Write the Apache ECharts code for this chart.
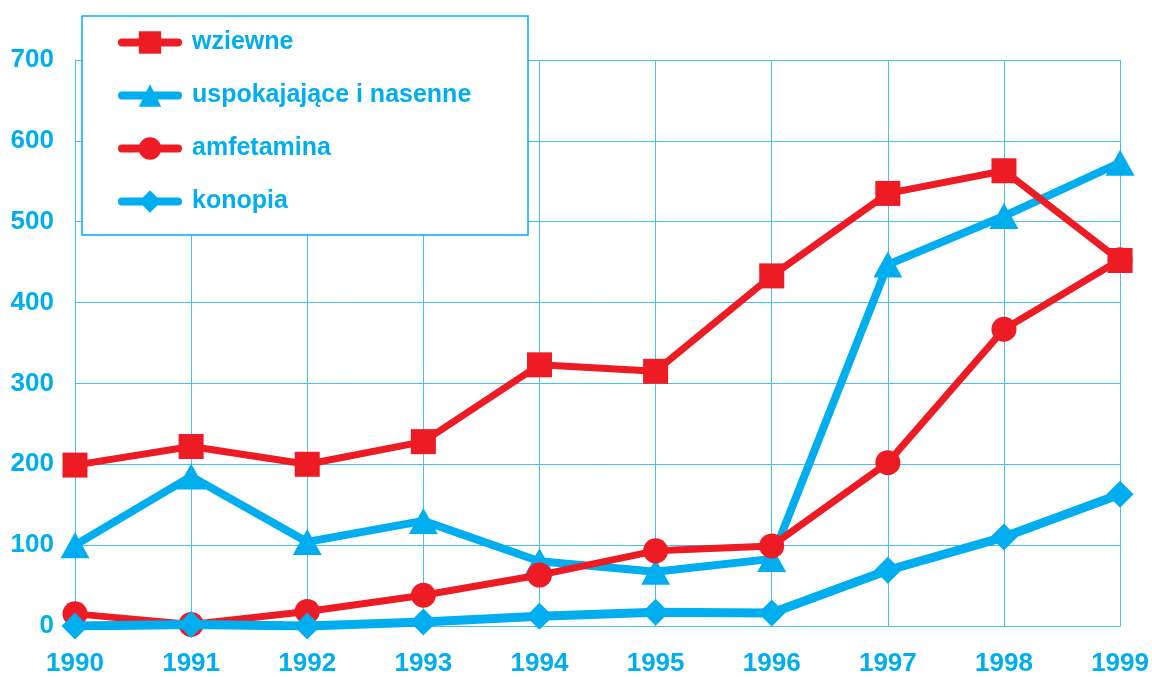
<!DOCTYPE html>
<html>
<head>
<meta charset="utf-8">
<script src="https://cdn.jsdelivr.net/npm/echarts@6/dist/echarts.min.js"></script>
<style>
html,body{margin:0;padding:0;background:#fff;}
#c1{width:1152px;height:677px;}
</style>
</head>
<body>
<div id="c1"></div>
<script>
var years = ['1990','1991','1992','1993','1994','1995','1996','1997','1998','1999'];
var wziewne = [199, 222, 200, 228, 323, 315, 433, 535, 563, 452];
var uspokajajace = [100, 185, 104, 130, 80, 67, 83, 447, 507, 573];
var amfetamina = [15, 2, 18, 38, 63, 93, 99, 202, 367, 453];
var konopia = [0, 2, 0, 5, 12, 17, 16, 69, 110, 163];
var names = ['wziewne', 'uspokajające i nasenne', 'amfetamina', 'konopia'];

var red = '#ED1C24';
var blue = '#00AEEF';
var gridCol = '#45C1F0';
var font = 'Liberation Sans';

function showChart() {
	var myChart = echarts.init(document.getElementById('c1'));
	var option = {
		animation: false,
		grid: { left: 75, right: 31, top: 60, bottom: 50 },
		legend: {
			orient: 'vertical',
			left: 113,
			top: 25,
			itemWidth: 56,
			itemHeight: 28,
			itemGap: 28,
			lineStyle: { width: 8, cap: 'round' },
			textStyle: { color: blue, fontSize: 25, fontFamily: font, fontWeight: 'bold', padding: [0, 0, 0, 9] },
			data: names
		},
		graphic: [{
			type: 'rect',
			z: 3,
			shape: { x: 82, y: 16, width: 446, height: 219 },
			style: { fill: '#fff', stroke: blue, lineWidth: 1.5 }
		}],
		xAxis: {
			type: 'category',
			boundaryGap: false,
			data: years,
			axisLine: { lineStyle: { color: gridCol, width: 1 } },
			axisTick: { show: false },
			axisLabel: { color: blue, fontSize: 26, fontFamily: font, fontWeight: 'bold', margin: 25 },
			splitLine: { show: true, lineStyle: { color: gridCol, width: 1 } }
		},
		yAxis: {
			type: 'value',
			min: 0,
			max: 700,
			interval: 100,
			axisLine: { show: true, lineStyle: { color: gridCol, width: 1 } },
			axisTick: { show: false },
			axisLabel: { color: blue, fontSize: 26, fontFamily: font, fontWeight: 'bold', margin: 21 },
			splitLine: { lineStyle: { color: gridCol, width: 1 } }
		},
		series: [{
			name: names[0],
			type: 'line',
			data: wziewne,
			symbol: 'rect',
			symbolSize: 25,
			itemStyle: { color: red },
			lineStyle: { color: red, width: 7, cap: 'round' },
			z: 3
		}, {
			name: names[1],
			type: 'line',
			data: uspokajajace,
			symbol: 'triangle',
			symbolSize: [29, 26],
			itemStyle: { color: blue },
			lineStyle: { color: blue, width: 8, cap: 'round' },
			z: 2
		}, {
			name: names[2],
			type: 'line',
			data: amfetamina,
			symbol: 'circle',
			symbolSize: 25,
			itemStyle: { color: red },
			lineStyle: { color: red, width: 7, cap: 'round' },
			z: 4
		}, {
			name: names[3],
			type: 'line',
			data: konopia,
			symbol: 'diamond',
			symbolSize: 27,
			itemStyle: { color: blue },
			lineStyle: { color: blue, width: 9, cap: 'round' },
			z: 5
		}]
	};
	myChart.setOption(option);
}
showChart();
</script>
</body>
</html>
